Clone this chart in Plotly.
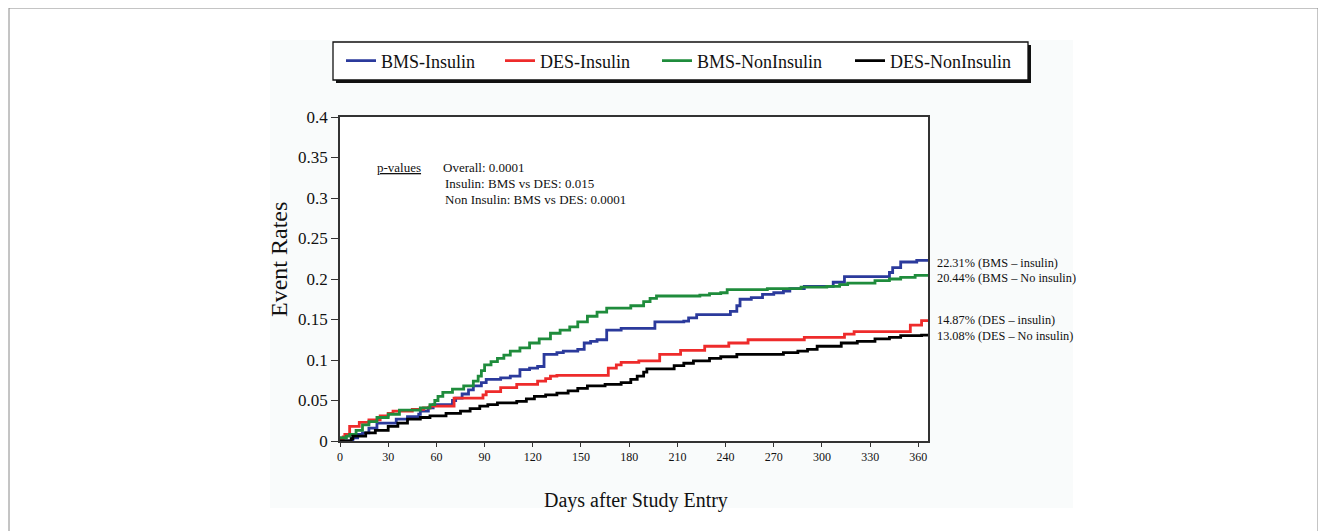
import plotly.graph_objects as go

# ---- data ----
bms_ins_days = [0, 8, 11, 14, 18, 23, 35, 42, 49, 50, 55, 58, 70, 72, 76, 80, 83, 88, 91, 100, 106, 112, 118, 123, 127, 135, 139, 148, 152, 156, 160, 166, 175, 196, 214, 217, 222, 243, 247, 249, 256, 263, 270, 276, 280, 289, 307, 314, 342, 344, 349, 359, 366]
bms_ins_vals = [0, 0.004, 0.008, 0.010, 0.016, 0.022, 0.027, 0.030, 0.033, 0.037, 0.041, 0.045, 0.050, 0.053, 0.058, 0.063, 0.068, 0.072, 0.076, 0.078, 0.080, 0.088, 0.090, 0.092, 0.107, 0.109, 0.111, 0.113, 0.121, 0.123, 0.125, 0.137, 0.139, 0.147, 0.148, 0.152, 0.156, 0.160, 0.167, 0.175, 0.177, 0.181, 0.183, 0.185, 0.188, 0.191, 0.196, 0.203, 0.208, 0.214, 0.221, 0.2231, 0.2231]

des_ins_days = [0, 2, 3, 6, 12, 18, 25, 30, 33, 45, 52, 56, 71, 89, 91, 100, 110, 123, 128, 131, 135, 167, 172, 175, 186, 199, 212, 227, 242, 254, 289, 314, 320, 355, 362, 366]
des_ins_vals = [0.002, 0.005, 0.008, 0.018, 0.023, 0.026, 0.031, 0.034, 0.037, 0.039, 0.041, 0.043, 0.053, 0.057, 0.061, 0.066, 0.070, 0.074, 0.077, 0.080, 0.081, 0.090, 0.094, 0.097, 0.099, 0.107, 0.112, 0.117, 0.121, 0.125, 0.128, 0.132, 0.135, 0.143, 0.1487, 0.1487]

bms_non_days = [0, 4, 6, 10, 14, 18, 23, 30, 37, 50, 56, 59, 61, 64, 70, 77, 83, 86, 88, 90, 94, 98, 102, 106, 112, 118, 124, 131, 137, 143, 148, 154, 160, 166, 181, 189, 193, 197, 224, 230, 237, 241, 266, 287, 303, 311, 316, 333, 342, 349, 358, 366]
bms_non_vals = [0.004, 0.006, 0.008, 0.013, 0.020, 0.024, 0.029, 0.033, 0.038, 0.041, 0.045, 0.050, 0.055, 0.060, 0.064, 0.068, 0.074, 0.080, 0.087, 0.094, 0.098, 0.102, 0.106, 0.111, 0.115, 0.121, 0.126, 0.133, 0.137, 0.141, 0.147, 0.154, 0.159, 0.164, 0.167, 0.172, 0.176, 0.179, 0.180, 0.182, 0.183, 0.187, 0.188, 0.190, 0.191, 0.193, 0.195, 0.198, 0.200, 0.202, 0.2044, 0.2044]

des_non_days = [0, 7, 8, 16, 22, 30, 36, 42, 50, 56, 66, 75, 81, 87, 92, 98, 110, 116, 121, 128, 135, 142, 148, 154, 165, 175, 181, 185, 189, 191, 208, 214, 220, 230, 237, 247, 276, 285, 291, 297, 312, 322, 333, 342, 349, 362, 366]
des_non_vals = [0, 0.003, 0.006, 0.010, 0.013, 0.018, 0.022, 0.027, 0.029, 0.031, 0.034, 0.037, 0.040, 0.043, 0.045, 0.047, 0.049, 0.052, 0.055, 0.057, 0.059, 0.062, 0.065, 0.068, 0.070, 0.072, 0.076, 0.080, 0.085, 0.089, 0.093, 0.096, 0.099, 0.102, 0.104, 0.107, 0.109, 0.111, 0.113, 0.117, 0.121, 0.123, 0.126, 0.128, 0.130, 0.1308, 0.1308]

series_names = ["BMS-Insulin", "DES-Insulin", "BMS-NonInsulin", "DES-NonInsulin"]
series_colors = ["#2b3a9c", "#ee2b2b", "#1f8c3c", "#000000"]

x_ticks = [0, 30, 60, 90, 120, 150, 180, 210, 240, 270, 300, 330, 360]
y_ticks = [0, 0.05, 0.1, 0.15, 0.2, 0.25, 0.3, 0.35, 0.4]
y_tick_text = ["0", "0.05", "0.1", "0.15", "0.2", "0.25", "0.3", "0.35", "0.4"]

end_labels = ["22.31% (BMS \u2013 insulin)", "20.44% (BMS \u2013 No insulin)",
              "14.87% (DES \u2013 insulin)", "13.08% (DES \u2013 No insulin)"]
pvalue_lines = ["Overall: 0.0001", "Insulin: BMS vs DES: 0.015", "Non Insulin: BMS vs DES: 0.0001"]

# ---- geometry (reference pixel coords; the page body adds an 8px offset) ----
OFF = 8
W, H = 1326 - OFF, 531 - OFF
L, R, T, B = 340, 928, 117, 441          # plot area in reference pixels
def px(x):
    return (x - L) / (R - L)
def py(y):
    return (B - y) / (B - T)

FONT = "Liberation Serif"
legend_ids = ["legend", "legend2", "legend3", "legend4"]
legend_left = [341, 500, 657, 850]

fig = go.Figure()
data = [(bms_ins_days, bms_ins_vals), (des_ins_days, des_ins_vals),
        (bms_non_days, bms_non_vals), (des_non_days, des_non_vals)]
for (d, v), name, col, lg in zip(data, series_names, series_colors, legend_ids):
    fig.add_trace(go.Scatter(x=d, y=v, mode="lines", name=name, legend=lg,
                             line=dict(color=col, width=2.8, shape="hv")))

shapes = [
    # outer frame
    dict(type="rect", xref="paper", yref="paper", x0=px(9), x1=px(1318), y0=py(560), y1=py(8),
         line=dict(color="#8a8a8a", width=1), fillcolor="rgba(0,0,0,0)", layer="below"),
    # light panel
    dict(type="rect", xref="paper", yref="paper", x0=px(270), x1=px(1073), y0=py(508), y1=py(40),
         line=dict(width=0), fillcolor="#f9fbfb", layer="below"),
    # white plot area
    dict(type="rect", xref="paper", yref="paper", x0=0, x1=1, y0=0, y1=1,
         line=dict(width=0), fillcolor="white", layer="below"),
    # legend shadow
    dict(type="rect", xref="paper", yref="paper", x0=px(336), x1=px(1031), y0=py(83), y1=py(45),
         line=dict(width=0), fillcolor="#111", layer="below"),
    # legend box
    dict(type="rect", xref="paper", yref="paper", x0=px(333), x1=px(1028), y0=py(80), y1=py(42),
         line=dict(color="#111", width=1.3), fillcolor="white", layer="below"),
]

annotations = [
    dict(text="<u>p-values</u>", x=px(375), y=py(167)),
    dict(text=pvalue_lines[0], x=px(441), y=py(167)),
    dict(text=pvalue_lines[1], x=px(443), y=py(183)),
    dict(text=pvalue_lines[2], x=px(443), y=py(199)),
]
for a in annotations:
    a.update(xref="paper", yref="paper", xanchor="left", yanchor="middle", showarrow=False,
             font=dict(family=FONT, size=13, color="#111"))

for txt, yy in zip(end_labels, [263, 278, 320, 336]):
    annotations.append(dict(text=txt, x=px(935), y=py(yy), xref="paper", yref="paper",
                            xanchor="left", yanchor="middle", showarrow=False,
                            font=dict(family=FONT, size=12.3, color="#111")))

annotations.append(dict(text="Event Rates", x=px(279), y=py(260), xref="paper", yref="paper",
                        textangle=-90, showarrow=False, xanchor="center", yanchor="middle",
                        font=dict(family=FONT, size=24, color="#111")))
annotations.append(dict(text="Days after Study Entry", x=px(636), y=py(500), xref="paper", yref="paper",
                        showarrow=False, xanchor="center", yanchor="middle",
                        font=dict(family=FONT, size=20, color="#111")))

legend_layout = {}
for lg, lx in zip(legend_ids, legend_left):
    legend_layout[lg] = dict(orientation="h", x=px(lx), y=py(61), xanchor="left", yanchor="middle",
                             bgcolor="rgba(0,0,0,0)", borderwidth=0,
                             font=dict(family=FONT, size=18, color="#111"), itemwidth=30)

fig.update_layout(
    width=W, height=H,
    margin=dict(l=L - OFF, r=W - (R - OFF), t=T - OFF, b=H - (B - OFF), pad=0),
    paper_bgcolor="white", plot_bgcolor="rgba(0,0,0,0)",
    font=dict(family=FONT, color="#111"),
    showlegend=True,
    shapes=shapes, annotations=annotations,
    xaxis=dict(range=[0, 366], tickvals=x_ticks, ticks="outside", ticklen=4, tickwidth=1.2,
               tickcolor="#333", showline=True, linecolor="#333", linewidth=1.5, mirror=True,
               showgrid=False, zeroline=False, tickfont=dict(family=FONT, size=12, color="#111")),
    yaxis=dict(range=[0, 0.4], tickvals=y_ticks, ticktext=y_tick_text, ticks="outside", ticklen=7,
               tickwidth=1.2, tickcolor="#333", showline=True, linecolor="#333", linewidth=1.5,
               mirror=True, showgrid=False, zeroline=False,
               tickfont=dict(family=FONT, size=17, color="#111")),
    **legend_layout,
)

fig.write_html("out.html")
